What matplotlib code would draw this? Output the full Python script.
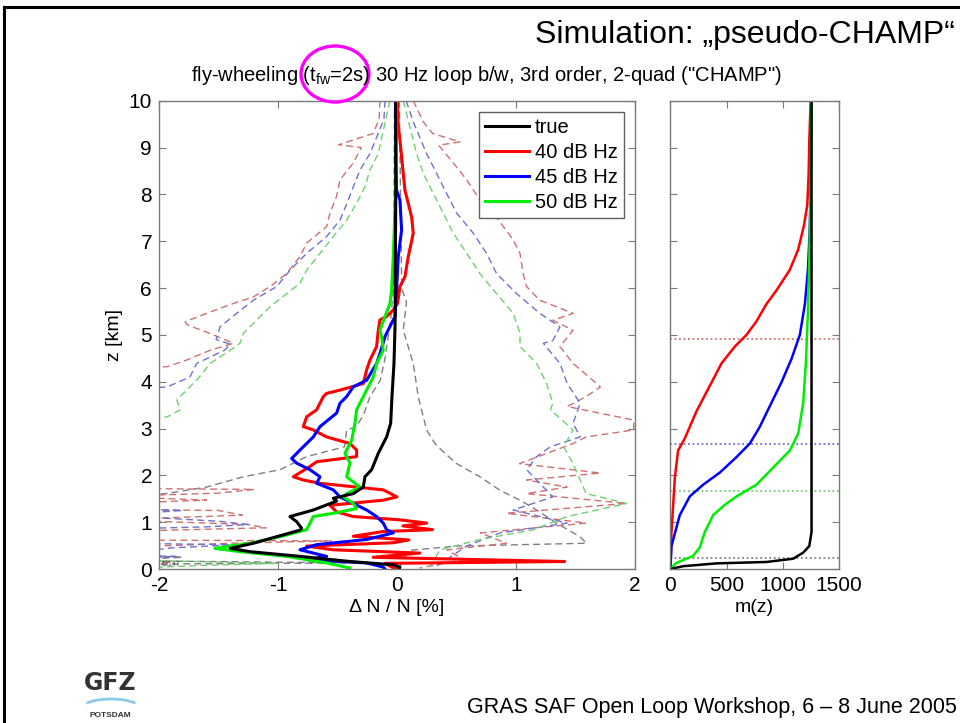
import numpy as np
import matplotlib
matplotlib.use("Agg")
import matplotlib.pyplot as plt
from matplotlib.lines import Line2D
from matplotlib.patches import Ellipse, Arc

plt.rcParams['font.family'] = ['Liberation Sans', 'DejaVu Sans']
plt.rcParams['mathtext.fontset'] = 'custom'
plt.rcParams['mathtext.rm'] = 'Liberation Sans'
plt.rcParams['mathtext.it'] = 'Liberation Sans'
plt.rcParams['axes.unicode_minus'] = False

# --- mean refractivity error profiles, dN/N [%] vs z [km] ---
z_true = [10, 8, 6, 5.4, 5.1, 4.39, 3.68, 3.11, 2.82, 2.47, 2.12, 1.97, 1.75, 1.61, 1.51, 1.45,
          1.26, 1.12, 1.01, 0.87, 0.83, 0.69, 0.55, 0.44, 0.37, 0.27, 0.16, 0.09, 0.04, 0.0]
dn_true = [-0.01, -0.01, -0.015, -0.015, -0.017, -0.025, -0.042, -0.053, -0.087, -0.157, -0.213,
           -0.269, -0.283, -0.367, -0.535, -0.507, -0.703, -0.899, -0.843, -0.801, -0.815, -1.011,
           -1.207, -1.40, -1.235, -0.815, -0.395, -0.031, 0.025, 0.02]

z_40 = [10, 9.5, 9.16, 8.8, 8.09, 7.52, 7.17, 6.67, 6.24, 6.03, 5.67, 5.53, 5.39, 5.32, 5.1, 4.75,
        4.46, 4.25, 3.96, 3.82, 3.75, 3.68, 3.4, 3.25, 3.04, 2.97, 2.82, 2.68, 2.54, 2.40, 2.29, 2.19,
        1.97, 1.9, 1.83, 1.69, 1.54, 1.47, 1.36, 1.22, 1.12, 1.05, 0.98, 0.92, 0.84, 0.80, 0.70, 0.62,
        0.56, 0.49, 0.41, 0.34, 0.25, 0.16, 0.12, 0.05, 0.0]
dn_40 = [0.005, 0.01, 0.025, 0.039, 0.067, 0.123, 0.137, 0.095, 0.067, 0.025, 0.005, -0.031, -0.087,
         -0.143, -0.157, -0.171, -0.227, -0.255, -0.283, -0.479, -0.591, -0.619, -0.675, -0.759,
         -0.787, -0.703, -0.591, -0.395, -0.339, -0.339, -0.675, -0.731, -0.871, -0.787, -0.647,
         -0.115, 0.0, -0.115, -0.563, -0.507, -0.367, 0.025, 0.25, 0.05, 0.30, -0.115, -0.367, 0.1,
         -0.031, -0.759, -0.535, 0.193, -0.2, 1.41, -0.1, -0.05, 0.0]

z_45 = [10, 9, 8.09, 7.88, 7.24, 6.67, 5.96, 5.39, 5.25, 4.96, 4.6, 4.39, 4.03, 3.89, 3.68, 3.54,
        3.33, 3.04, 2.82, 2.54, 2.36, 2.26, 2.12, 1.97, 1.83, 1.69, 1.54, 1.40, 1.26, 1.12, 0.98,
        0.84, 0.77, 0.63, 0.52, 0.41, 0.34, 0.27, 0.2, 0.13, 0.04, 0.0]
dn_45 = [-0.011, -0.01, -0.003, 0.025, 0.039, 0.011, -0.003, -0.017, -0.045, -0.101, -0.143, -0.171,
         -0.255, -0.367, -0.423, -0.479, -0.507, -0.647, -0.703, -0.815, -0.885, -0.843, -0.731,
         -0.647, -0.675, -0.535, -0.479, -0.367, -0.255, -0.171, -0.115, -0.087, -0.031, -0.255,
         -0.675, -0.815, -0.703, -0.591, -0.759, -0.255, -0.115, -0.1]

z_50 = [10, 8.09, 6.67, 5.96, 5.67, 5.39, 5.1, 4.96, 4.67, 4.39, 4.1, 3.68, 3.4, 3.11, 2.75, 2.47,
        2.26, 1.97, 1.75, 1.61, 1.54, 1.40, 1.29, 1.19, 1.12, 0.98, 0.84, 0.69, 0.55, 0.44, 0.37,
        0.27, 0.13, 0.02]
dn_50 = [-0.003, -0.011, -0.031, -0.045, -0.059, -0.101, -0.143, -0.129, -0.115, -0.171, -0.199,
         -0.283, -0.339, -0.353, -0.381, -0.437, -0.395, -0.423, -0.311, -0.423, -0.451, -0.367,
         -0.339, -0.535, -0.703, -0.731, -0.759, -0.983, -1.235, -1.53, -1.319, -0.927, -0.591,
         -0.395]

# --- scatter envelopes (dashed), lower and upper side ---
z_true_lo = [10, 6, 5.4, 4.5, 4.03, 3.68, 3.3, 3.04, 2.97, 2.61, 2.4, 2.12, 1.97, 1.75, 1.61, 1.55,
             0.3, 0.25, 0.18, 0.13, 0.10, 0.0]
dn_true_lo = [-0.02, -0.03, -0.05, -0.1, -0.14, -0.227, -0.28, -0.339, -0.423, -0.44, -0.759,
              -0.983, -1.291, -1.599, -1.94, -2.4, -2.4, -1.8, -2.4, -0.35, -2.4, -2.4]
z_true_hi = [10, 6, 5.7, 5.1, 4.39, 3.68, 2.97, 2.68, 2.47, 2.25, 1.97, 1.68, 1.47, 1.26, 0.98,
             0.69, 0.55, 0.49, 0.40, 0.2, 0.0]
dn_true_hi = [0.02, 0.04, 0.08, 0.053, 0.137, 0.179, 0.249, 0.319, 0.403, 0.502, 0.697, 0.866,
              1.034, 1.174, 1.341, 1.537, 1.593, 0.5, 0.11, 0.05, 0.02]

z_40_lo = [10, 9.6, 9.3, 9.06, 9.0, 8.67, 8.31, 7.96, 7.6, 7.31, 6.96, 6.67, 6.31, 6.03, 5.81,
           5.67, 5.46, 5.28, 5.21, 5.03, 4.82, 4.67, 4.46, 4.32, 4.3, 1.72, 1.70, 1.62, 1.55, 1.47,
           1.40, 1.27, 1.25, 1.15, 1.05, 0.95, 0.88, 0.80, 0.62, 0.60, 0.55, 0.45, 0.2, 0.15, 0.05,
           0.0]
dn_40_lo = [-0.143, -0.15, -0.2, -0.49, -0.3, -0.367, -0.479, -0.507, -0.563, -0.591, -0.759,
            -0.815, -0.927, -1.067, -1.207, -1.375, -1.599, -1.78, -1.76, -1.57, -1.375, -1.571,
            -1.77, -1.93, -2.4, -2.4, -1.2, -1.5, -2.4, -1.6, -2.4, -2.4, -1.5, -1.3, -2.4, -1.25,
            -1.1, -2.4, -2.4, -0.55, -1.4, -2.4, -2.4, -1.9, -2.4, -2.4]
z_40_hi = [10, 9.55, 9.3, 9.12, 9.05, 8.67, 8.31, 7.88, 7.6, 7.31, 7.03, 6.74, 6.31, 6.03, 5.74,
           5.46, 5.31, 5.1, 4.75, 4.39, 3.89, 3.68, 3.47, 3.18, 2.97, 2.82, 2.68, 2.25, 2.05, 1.9,
           1.75, 1.61, 1.4, 1.19, 0.98, 0.77, 0.55, 0.41, 0.2, 0.02]
dn_40_hi = [0.137, 0.221, 0.3, 0.53, 0.35, 0.474, 0.586, 0.697, 0.81, 0.894, 0.977, 1.034, 1.06,
            1.09, 1.2, 1.48, 1.31, 1.48, 1.37, 1.48, 1.71, 1.59, 1.43, 1.99, 1.99, 1.59, 1.48, 1.03,
            1.71, 1.09, 1.43, 1.09, 1.93, 0.92, 1.59, 0.70, 0.92, 0.42, 0.56, 0.19]

z_45_lo = [10, 9.6, 8.87, 8.52, 8.16, 7.81, 7.45, 7.1, 6.74, 6.38, 6.03, 5.74, 5.46, 5.17, 4.9,
           4.80, 4.67, 4.39, 4.1, 3.89, 3.8, 1.3, 1.25, 1.15, 1.02, 0.95, 0.90, 0.85, 0.55, 0.52,
           0.45, 0.30, 0.27, 0.2, 0.0]
dn_45_lo = [-0.1, -0.11, -0.227, -0.311, -0.367, -0.42, -0.479, -0.591, -0.759, -0.899, -1.011,
            -1.207, -1.347, -1.487, -1.52, -1.40, -1.45, -1.683, -1.74, -1.93, -2.4, -2.4, -1.8,
            -2.4, -1.5, -1.25, -1.6, -2.4, -2.4, -1.35, -1.9, -2.4, -1.85, -2.4, -2.4]
z_45_hi = [10, 9.55, 8.87, 8.45, 8.02, 7.6, 7.17, 6.74, 6.31, 5.88, 5.46, 5.17, 4.88, 4.82, 4.39,
           3.96, 3.54, 3.11, 2.82, 2.61, 2.4, 2.12, 1.83, 1.54, 1.26, 0.98, 0.77, 0.49, 0.2, 0.02]
dn_45_hi = [0.077, 0.137, 0.249, 0.333, 0.417, 0.502, 0.641, 0.753, 0.837, 1.006, 1.2, 1.37, 1.31,
            1.23, 1.37, 1.43, 1.54, 1.48, 1.54, 1.29, 1.174, 1.09, 1.2, 1.31, 0.977, 1.43, 0.866,
            0.585, 0.417, 0.305]

z_50_lo = [10, 8.87, 8.52, 8.16, 7.81, 7.45, 7.1, 6.74, 6.38, 6.1, 5.88, 5.6, 5.32, 5.03, 4.82,
           4.67, 4.39, 4.1, 3.89, 3.61, 3.4, 3.25, 3.1, 0.2, 0.12, 0.08, 0.0]
dn_50_lo = [-0.06, -0.157, -0.227, -0.269, -0.339, -0.423, -0.535, -0.647, -0.759, -0.815, -0.927,
            -1.067, -1.179, -1.291, -1.32, -1.40, -1.571, -1.66, -1.74, -1.85, -1.82, -1.93, -2.4,
            -2.4, -1.0, -1.6, -2.4]
z_50_hi = [10, 8.87, 8.45, 8.02, 7.6, 7.17, 6.74, 6.31, 5.88, 5.46, 5.03, 4.75, 4.39, 3.96, 3.54,
           3.4, 2.97, 2.61, 2.25, 1.9, 1.61, 1.4, 1.12, 0.84, 0.63, 0.41, 0.13, 0.0]
dn_50_hi = [0.053, 0.165, 0.221, 0.305, 0.389, 0.474, 0.586, 0.697, 0.837, 0.977, 1.034, 1.034,
            1.174, 1.258, 1.31, 1.29, 1.48, 1.40, 1.48, 1.54, 1.59, 1.93, 1.43, 1.15, 0.697, 0.361,
            0.30, 0.25]

# --- number of profiles m(z) that reach height z ---
zm_true = [0, 0.06, 0.12, 0.15, 0.22, 0.35, 0.49, 0.79, 10]
m_true = [0, 113, 410, 855, 1093, 1182, 1236, 1256, 1256]
zm_40 = [0, 0.79, 1.95, 2.53, 2.79, 3.37, 3.91, 4.39, 4.75, 5.0, 5.29, 5.66, 5.95, 6.39, 6.82,
         7.33, 7.77, 8.42, 9.15, 10]
m_40 = [0, 9, 39, 68, 128, 232, 350, 454, 573, 677, 766, 855, 944, 1063, 1137, 1188, 1218, 1230,
        1236, 1248]
zm_45 = [0, 0.49, 1.15, 1.55, 1.80, 2.06, 2.39, 2.68, 3.04, 3.48, 3.99, 4.49, 5.0, 5.66, 6.39,
         7.19, 8.07, 10]
m_45 = [0, 9, 83, 172, 291, 440, 588, 707, 796, 885, 989, 1078, 1152, 1197, 1224, 1239, 1248, 1254]
zm_50 = [0, 0.13, 0.28, 0.46, 0.79, 1.15, 1.37, 1.55, 1.80, 2.24, 2.53, 2.89, 3.55, 4.42, 5.51,
         6.6, 8.07, 10]
m_50 = [0, 53, 202, 261, 306, 380, 484, 588, 766, 944, 1063, 1137, 1182, 1206, 1224, 1236, 1248,
        1254]

# heights where half of the profiles are lost
z_half = [0.24, 4.91, 2.67, 1.67]

labels = ['true', '40 dB Hz', '45 dB Hz', '50 dB Hz']
colors = ['black', '#ff0000', '#0000ff', '#00ee00']
dash_colors = ['#808080', '#d07070', '#7070d0', '#70d070']

fig = plt.figure(figsize=(9.6, 7.23), dpi=100)
ax = fig.add_axes([0.1656, 0.213, 0.4958, 0.6477])
ax2 = fig.add_axes([0.6984, 0.213, 0.1755, 0.6477])

envelopes = [(z_true_lo, dn_true_lo, z_true_hi, dn_true_hi),
             (z_40_lo, dn_40_lo, z_40_hi, dn_40_hi),
             (z_45_lo, dn_45_lo, z_45_hi, dn_45_hi),
             (z_50_lo, dn_50_lo, z_50_hi, dn_50_hi)]
for (zl, dl, zh, dh), c in zip(envelopes, dash_colors):
    ax.plot(dl, zl, '--', color=c, lw=1.0, dashes=(5, 3))
    ax.plot(dh, zh, '--', color=c, lw=1.0, dashes=(5, 3))

means = [(z_true, dn_true), (z_40, dn_40), (z_45, dn_45), (z_50, dn_50)]
for (zz, dd), c, lab in zip(means[1:], colors[1:], labels[1:]):
    ax.plot(dd, zz, color=c, lw=2.2, label=lab)
ax.plot(dn_true, z_true, color='black', lw=2.2, label='true')

handles, labs = ax.get_legend_handles_labels()
order = [labs.index(l) for l in labels]
leg = ax.legend([handles[i] for i in order], [labs[i] for i in order], loc='upper right',
                fontsize=14.5, fancybox=False, edgecolor='#606060', framealpha=1,
                handlelength=2.2, handletextpad=0.3, borderpad=0.3, labelspacing=0.3,
                borderaxespad=0.55)
leg.get_frame().set_linewidth(1.0)

ax.set_xlim(-2, 2)
ax.set_ylim(0, 10)
ax.set_xticks([-2, -1, 0, 1, 2])
ax.set_yticks(range(0, 11))
ax.set_xlabel('Δ N / N [%]', fontsize=14, labelpad=3)
ax.set_ylabel('z [km]', fontsize=14, labelpad=4)
ax.text(0.003, 0.006, '42147', transform=ax.transAxes, fontsize=5, color='#555555')

ms = [(zm_true, m_true), (zm_40, m_40), (zm_45, m_45), (zm_50, m_50)]
for (zz, mm), zh, c, dc in zip(ms, z_half, colors, dash_colors):
    ax2.axhline(zh, color=dc, lw=1.3, ls=(0, (1, 1.5)))
for (zz, mm), c in zip(ms[1:], colors[1:]):
    ax2.plot(mm, zz, color=c, lw=1.8)
ax2.plot(m_true, zm_true, color='black', lw=1.8)
ax2.set_xlim(0, 1500)
ax2.set_ylim(0, 10)
ax2.set_xticks([0, 500, 1000, 1500])
ax2.set_yticks(range(0, 11))
ax2.set_yticklabels([])
ax2.set_xlabel('m(z)', fontsize=14, labelpad=3)

for a in (ax, ax2):
    for s in a.spines.values():
        s.set_color('#7a7a7a')
        s.set_linewidth(1.0)
    a.tick_params(direction='in', top=True, right=True, length=5, color='#7a7a7a',
                  labelsize=15, pad=5)

# slide decorations
fig.add_artist(Line2D([0.004, 1.0], [0.991, 0.991], color='black', lw=2.2))
fig.add_artist(Line2D([0.004, 0.004], [0.0, 0.991], color='black', lw=2.2))
fig.text(0.995, 0.951, 'Simulation: „pseudo-CHAMP“', ha='right', va='center', fontsize=23)
fig.text(0.507, 0.895, 'fly-wheeling (t$_{\\rm fw}$=2s) 30 Hz loop b/w, 3rd order, 2-quad ("CHAMP")',
         ha='center', va='center', fontsize=14.5)
fig.add_artist(Ellipse((335 / 960, 1 - 74 / 723), 68 / 960, 56 / 723, fill=False,
                       edgecolor='#ff00ff', lw=2.4, transform=fig.transFigure))
fig.text(0.997, 0.022, 'GRAS SAF Open Loop Workshop, 6 – 8 June 2005', ha='right', va='center',
         fontsize=15.5)
fig.text(0.115, 0.055, 'GFZ', ha='center', va='center', fontsize=17, fontweight='bold',
         color='#333333', family=['DejaVu Sans'])
fig.add_artist(Arc((111 / 960, 1 - 710 / 723), 62 / 960, 22 / 723, theta1=20, theta2=160,
                   color='#8ccbe8', lw=2.0, transform=fig.transFigure))
fig.text(0.115, 0.010, 'POTSDAM', ha='center', va='center', fontsize=6, fontweight='bold',
         color='#333333')

fig.savefig('out.png', dpi=100)
